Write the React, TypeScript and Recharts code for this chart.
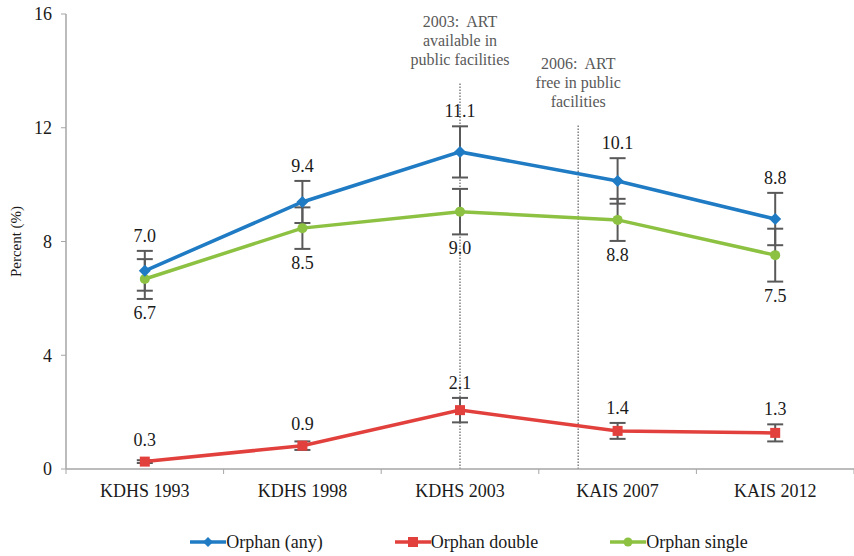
import {
  ErrorBar,
  LabelList,
  Legend,
  Line,
  LineChart,
  ReferenceLine,
  XAxis,
  YAxis,
} from "recharts";

const surveys = ["KDHS 1993", "KDHS 1998", "KDHS 2003", "KAIS 2007", "KAIS 2012"];

const orphanAny = [6.97, 9.39, 11.15, 10.13, 8.79];
const orphanAnyErr = [0.7, 0.74, 0.9, 0.8, 0.92];
const orphanAnyText = ["7.0", "9.4", "11.1", "10.1", "8.8"];

const orphanDouble = [0.26, 0.82, 2.07, 1.34, 1.27];
const orphanDoubleErr = [0.05, 0.15, 0.43, 0.28, 0.3];
const orphanDoubleText = ["0.3", "0.9", "2.1", "1.4", "1.3"];

const orphanSingle = [6.68, 8.47, 9.05, 8.76, 7.52];
const orphanSingleErr = [0.7, 0.73, 0.8, 0.74, 0.93];
const orphanSingleText = ["6.7", "8.5", "9.0", "8.8", "7.5"];

const yTicks = [0, 4, 8, 12, 16];

// policy notes: x position on the survey axis, top of dotted line (percent)
const note2003 = { x: 2, top: 13.6, lines: ["2003:  ART", "available in", "public facilities"] };
const note2006 = { x: 2.75, top: 12.1, lines: ["2006:  ART", "free in public", "facilities"] };

const SERIF = '"Liberation Serif", "Times New Roman", serif';
const BLUE = "#1f7bc3";
const RED = "#e2403c";
const GREEN = "#8cc142";
const ERR = "#595959";
const AXIS = "#a6a6a6";
const TEXT = "#1a1a1a";

const W = 854;
const H = 556;
const PLOT_H = 455;
const pxPerUnit = PLOT_H / 16;

const data = surveys.map((name, i) => ({
  x: i,
  name,
  any: orphanAny[i],
  anyErr: orphanAnyErr[i],
  double: orphanDouble[i],
  doubleErr: orphanDoubleErr[i],
  single: orphanSingle[i],
  singleErr: orphanSingleErr[i],
}));

const xTicks = [-0.5, ...surveys.flatMap((_, i) => [i, i + 0.5])];

function Diamond({ cx, cy, color, r = 6 }: any) {
  return (
    <path
      d={`M${cx},${cy - r}L${cx + r},${cy}L${cx},${cy + r}L${cx - r},${cy}Z`}
      fill={color}
    />
  );
}

function Square({ cx, cy, color, r = 5 }: any) {
  return <rect x={cx - r} y={cy - r} width={r * 2} height={r * 2} fill={color} />;
}

function Dot({ cx, cy, color, r = 5 }: any) {
  return <circle cx={cx} cy={cy} r={r} fill={color} />;
}

function SurveyTick({ x, y, payload }: any) {
  const v = payload.value;
  if (!Number.isInteger(v)) {
    return <line x1={x} x2={x} y1={y - 8} y2={y - 3} stroke={AXIS} strokeWidth={1} />;
  }
  return (
    <text x={x} y={y} dy={20} textAnchor="middle" fontFamily={SERIF} fontSize={18} fill={TEXT}>
      {surveys[v]}
    </text>
  );
}

function valueLabel(texts: string[], errs: number[], side: "above" | "below", minGap: number) {
  return (p: any) => {
    const i = p.index;
    const gap = Math.max(errs[i] * pxPerUnit + (side === "above" ? 15 : 14), minGap);
    const y = side === "above" ? p.y - gap : p.y + gap;
    return (
      <text
        key={`lbl-${side}-${i}`}
        x={p.x}
        y={y}
        textAnchor="middle"
        dominantBaseline="central"
        fontFamily={SERIF}
        fontSize={18}
        fill={TEXT}
      >
        {texts[i]}
      </text>
    );
  };
}

function NoteLabel({ viewBox, lines }: any) {
  if (!viewBox) return null;
  return (
    <g>
      {lines.map((t: string, i: number) => (
        <text
          key={t}
          x={viewBox.x}
          y={viewBox.y - 61 + i * 19}
          textAnchor="middle"
          dominantBaseline="central"
          fontFamily={SERIF}
          fontSize={16}
          fill="#595959"
          style={{ whiteSpace: "pre" }}
        >
          {t}
        </text>
      ))}
    </g>
  );
}

const legendItems = [
  { name: "Orphan (any)", color: BLUE, Marker: Diamond },
  { name: "Orphan double", color: RED, Marker: Square },
  { name: "Orphan single", color: GREEN, Marker: Dot },
];

function LegendContent() {
  return (
    <div
      style={{
        display: "flex",
        justifyContent: "center",
        alignItems: "center",
        gap: 72,
        height: 24,
        paddingLeft: 84,
        fontFamily: SERIF,
        fontSize: 18,
        color: TEXT,
      }}
    >
      {legendItems.map(({ name, color, Marker }) => (
        <div key={name} style={{ display: "flex", alignItems: "center" }}>
          <svg width={36} height={14}>
            <line x1={0} x2={36} y1={7} y2={7} stroke={color} strokeWidth={3.5} />
            <Marker cx={18} cy={7} color={color} r={Marker === Dot ? 4.5 : 5} />
          </svg>
          <span>{name}</span>
        </div>
      ))}
    </div>
  );
}

export default function App() {
  return (
    <div style={{ position: "absolute", left: 0, top: 0, width: W, height: H, background: "#fff" }}>
      <LineChart width={W} height={H} data={data} margin={{ top: 14, right: 0, bottom: 2, left: 0 }}>
        <XAxis
          type="number"
          dataKey="x"
          domain={[-0.5, 4.5]}
          ticks={xTicks}
          interval={0}
          tickLine={false}
          tick={<SurveyTick />}
          height={61}
          axisLine={{ stroke: AXIS, strokeWidth: 1.5 }}
        />
        <YAxis
          domain={[0, 16]}
          ticks={yTicks}
          width={66}
          tickSize={5}
          tickMargin={9}
          tickLine={{ stroke: AXIS }}
          axisLine={{ stroke: AXIS, strokeWidth: 1.5 }}
          tick={{ fontFamily: SERIF, fontSize: 18, fill: TEXT }}
          label={{
            value: "Percent (%)",
            angle: -90,
            position: "insideLeft",
            offset: 16,
            style: { fontFamily: SERIF, fontSize: 15, fill: TEXT, textAnchor: "middle" },
          }}
        />
        <ReferenceLine
          segment={[
            { x: note2003.x, y: 0 },
            { x: note2003.x, y: note2003.top },
          ]}
          stroke="#808080"
          strokeWidth={1.5}
          strokeDasharray="1.5 1.5"
          label={<NoteLabel lines={note2003.lines} />}
        />
        <ReferenceLine
          segment={[
            { x: note2006.x, y: 0 },
            { x: note2006.x, y: note2006.top },
          ]}
          stroke="#808080"
          strokeWidth={1.5}
          strokeDasharray="1.5 1.5"
          label={<NoteLabel lines={note2006.lines} />}
        />
        <Legend verticalAlign="bottom" content={<LegendContent />} wrapperStyle={{ left: 0, width: W }} />
        <Line
          dataKey="single"
          name="Orphan single"
          stroke={GREEN}
          strokeWidth={3.5}
          isAnimationActive={false}
          dot={(p: any) => <Dot key={`s-${p.index}`} cx={p.cx} cy={p.cy} color={GREEN} r={5} />}
          activeDot={false}
        >
          <ErrorBar dataKey="singleErr" direction="y" width={8} stroke={ERR} strokeWidth={2} isAnimationActive={false} />
          <LabelList dataKey="single" content={valueLabel(orphanSingleText, orphanSingleErr, "below", 0)} />
        </Line>
        <Line
          dataKey="any"
          name="Orphan (any)"
          stroke={BLUE}
          strokeWidth={3.5}
          isAnimationActive={false}
          dot={(p: any) => <Diamond key={`a-${p.index}`} cx={p.cx} cy={p.cy} color={BLUE} r={6} />}
          activeDot={false}
        >
          <ErrorBar dataKey="anyErr" direction="y" width={8} stroke={ERR} strokeWidth={2} isAnimationActive={false} />
          <LabelList dataKey="any" content={valueLabel(orphanAnyText, orphanAnyErr, "above", 0)} />
        </Line>
        <Line
          dataKey="double"
          name="Orphan double"
          stroke={RED}
          strokeWidth={3.5}
          isAnimationActive={false}
          dot={(p: any) => <Square key={`d-${p.index}`} cx={p.cx} cy={p.cy} color={RED} r={5} />}
          activeDot={false}
        >
          <ErrorBar dataKey="doubleErr" direction="y" width={8} stroke={ERR} strokeWidth={2} isAnimationActive={false} />
          <LabelList dataKey="double" content={valueLabel(orphanDoubleText, orphanDoubleErr, "above", 22)} />
        </Line>
      </LineChart>
    </div>
  );
}
